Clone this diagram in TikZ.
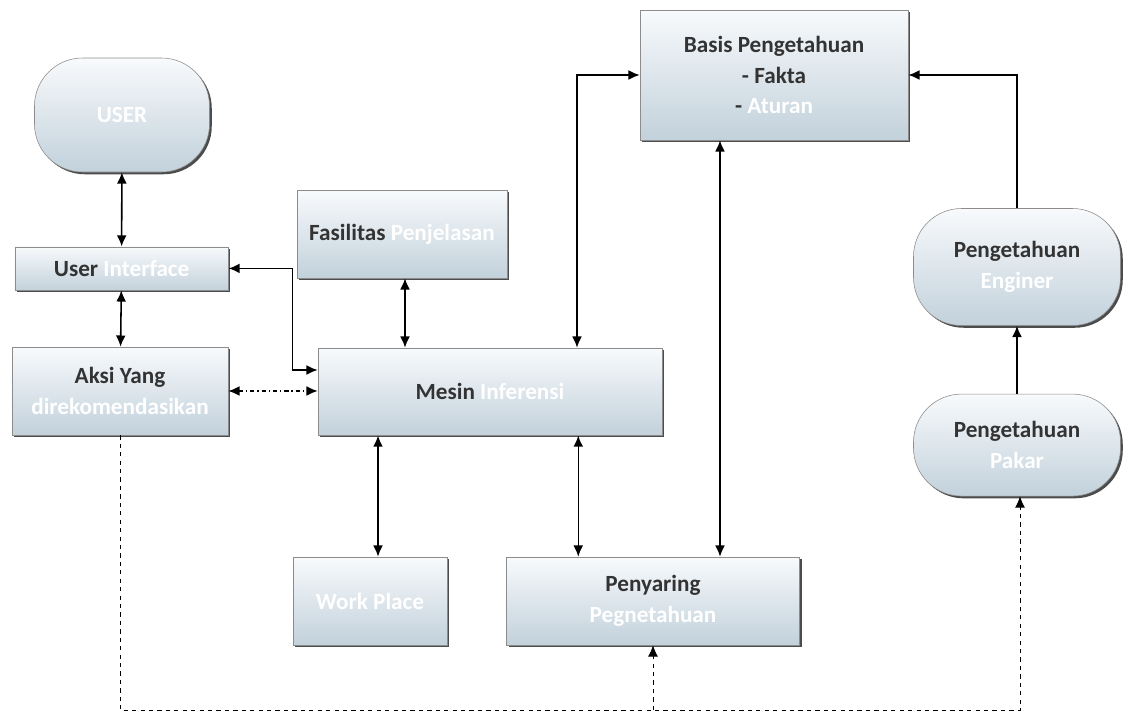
\documentclass[tikz,border=0pt]{standalone}
\usepackage{fontspec}
\setmainfont{Carlito}
\usepackage{xcolor}
\usepackage{tikz}
\usetikzlibrary{arrows.meta, positioning, calc, shadows}
\definecolor{boxtop}{HTML}{F8FAFC}
\definecolor{boxbot}{HTML}{C2D1DB}
\definecolor{edgecolor}{HTML}{8C8C8C}
\definecolor{txtcolor}{HTML}{333333}
\newcommand{\lite}[1]{\textcolor{white}{#1}}

\begin{document}
\begin{tikzpicture}[
  box/.style={draw=edgecolor, top color=boxtop, bottom color=boxbot,
              align=center, text=txtcolor, inner sep=2pt,
              font=\fontsize{16.5}{22}\selectfont\bfseries,
              drop shadow={shadow xshift=1.6pt, shadow yshift=-1.6pt,
                           fill=black!70, opacity=1}},
  pill/.style={box, rounded corners=1.2cm},
  arrow/.style={-{Latex[length=8pt, width=7pt]}, line width=1.1pt},
  darrow/.style={{Latex[length=8pt, width=7pt]}-{Latex[length=8pt, width=7pt]},
                 line width=1.1pt},
  dline/.style={-{Latex[length=8pt, width=7pt]}, dashed, line width=0.6pt},
]
\useasboundingbox (0,0) rectangle (28.325,-17.825);

%% User side
\node[pill, minimum width=4.375cm, minimum height=2.85cm]
      (user) at (3.05,-2.875) {\lite{USER}};
\node[box, minimum width=5.33cm, minimum height=1.08cm]
      (ui) at (3.04,-6.71) {User \lite{Interface}};
\node[box, minimum width=5.4cm, minimum height=2.2cm]
      (aksi) at (3.0,-9.775) {Aksi Yang\\\lite{direkomendasikan}};

%% Inference engine
\node[box, minimum width=5.25cm, minimum height=2.2cm]
      (fas) at (10.05,-5.85) {Fasilitas \lite{Penjelasan}};
\node[box, minimum width=8.6cm, minimum height=2.18cm]
      (mesin) at (12.25,-9.79) {Mesin \lite{Inferensi}};
\node[box, minimum width=3.85cm, minimum height=2.2cm]
      (work) at (9.25,-15.025) {\lite{Work Place}};
\node[box, minimum width=7.325cm, minimum height=2.2cm]
      (peny) at (16.325,-15.025) {Penyaring\\\lite{Pegnetahuan}};

%% Knowledge base
\node[box, minimum width=6.7cm, minimum height=3.25cm]
      (basis) at (19.35,-1.875) {Basis Pengetahuan\\- Fakta\\- \lite{Aturan}};

%% Knowledge sources
\node[pill, minimum width=5.175cm, minimum height=2.925cm]
      (eng) at (25.425,-6.675) {Pengetahuan\\\lite{Enginer}};
\node[pill, minimum width=5.175cm, minimum height=2.55cm,
      below=1.7cm of eng] (pakar) {Pengetahuan\\\lite{Pakar}};

\coordinate (base) at (0,-17.75);

%% Arrows
\draw[darrow] (user) -- (ui);
\draw[darrow] (ui) -- (aksi);
\draw[darrow] (ui.east) -- ++(1.6,0) |- ([yshift=0.54cm]mesin.west);
\draw[darrow, dash dot] (aksi) -- (aksi -| mesin.west);
\draw[darrow] ([xshift=0.075cm]fas.south) -- ([xshift=0.075cm]fas.south |- mesin.north);
\draw[darrow] (basis.west) -| ([xshift=2.175cm]mesin.north);
\draw[darrow] ([xshift=-1.35cm]basis.south) -- ([xshift=-1.35cm]basis.south |- peny.north);
\draw[darrow] ([xshift=0.2cm]work.north) -- ([xshift=0.2cm]work.north |- mesin.south);
\draw[darrow] ([xshift=-2.1cm]mesin.south east) -- ([xshift=-2.1cm]mesin.south east |- peny.north);
\draw[arrow] (eng.north) |- (basis.east);
\draw[arrow] (pakar) -- (eng);
\draw[dline] (aksi.south) -- (aksi.south |- base) -| ([xshift=0.075cm]pakar.south);
\draw[dline] (peny.south |- base) -- (peny.south);

\end{tikzpicture}
\end{document}
